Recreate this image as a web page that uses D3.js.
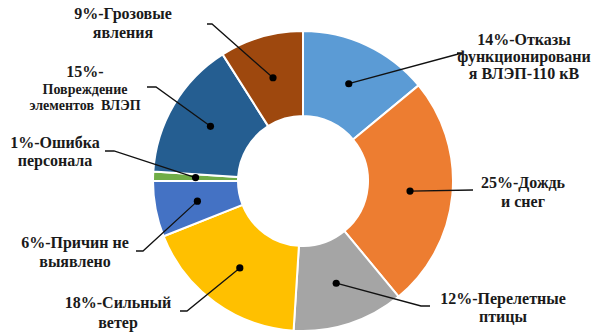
<!DOCTYPE html>
<html>
<head>
<meta charset="utf-8">
<script src="https://cdn.jsdelivr.net/npm/d3@7"></script>
<style>
  html, body { margin: 0; padding: 0; background: #fff; }
  svg { display: block; }
</style>
</head>
<body>
<svg id="chart" width="591" height="334"></svg>
<script>
// Causes of outages, share in percent (clockwise from 12 o'clock)
const categories = [
  "Отказы функционирования ВЛЭП-110 кВ",
  "Дождь и снег",
  "Перелетные птицы",
  "Сильный ветер",
  "Причин не выявлено",
  "Ошибка персонала",
  "Повреждение элементов ВЛЭП",
  "Грозовые явления"
];
const values = [14, 25, 12, 18, 6, 1, 15, 9];
const colors = ["#5B9BD5", "#ED7D31", "#A5A5A5", "#FFC000", "#4472C4", "#70AD47", "#255E91", "#9E480E"];
// Label text, line by line
const labelLines = [
  ["14%-Отказы", "функционировани", "я ВЛЭП-110 кВ"],
  ["25%-Дождь", "и снег"],
  ["12%-Перелетные", "птицы"],
  ["18%-Сильный", "ветер"],
  ["6%-Причин не", "выявлено"],
  ["1%-Ошибка", "персонала"],
  ["15%-", "Повреждение", "элементов  ВЛЭП"],
  ["9%-Грозовые", "явления"]
];

const FONT = "'Liberation Serif'";
const svg = d3.select("#chart");
const cx = 303, cy = 181;
const outerR = 150, innerR = 65;

const pie = d3.pie().sort(null).value(d => d)(values);
const arc = d3.arc().innerRadius(innerR).outerRadius(outerR);

const g = svg.append("g").attr("transform", `translate(${cx},${cy})`);

g.selectAll("path.slice")
  .data(pie)
  .join("path")
  .attr("class", "slice")
  .attr("d", arc)
  .attr("fill", (d, i) => colors[i])
  .attr("stroke", "#fff")
  .attr("stroke-width", 2)
  .attr("stroke-linejoin", "round");

// Label layout: text centre x, first baseline y, line step, font sizes,
// leader end point (ex, ey) and short horizontal tail length
const layout = [
  { x: 524, y: 45, step: 17, sizes: [16, 16, 16], ex: 457, ey: 53, tail: 5 },
  { x: 523, y: 188, step: 19, sizes: [16, 16], ex: 473, ey: 190, tail: 0 },
  { x: 503, y: 304, step: 18, sizes: [16, 16], ex: 430, ey: 306, tail: -9 },
  { x: 118, y: 308, step: 20, sizes: [16, 16], ex: 180, ey: 311, tail: 7 },
  { x: 75, y: 248, step: 19, sizes: [16, 16], ex: 136, ey: 251, tail: 7 },
  { x: 55, y: 148, step: 18, sizes: [16, 16], ex: 105, ey: 151, tail: 9 },
  { x: 85, y: 77, step: 16.5, sizes: [16, 14, 14], ex: 147, ey: 87, tail: 9 },
  { x: 123, y: 19, step: 18.5, sizes: [16, 16], ex: 207, ey: 24, tail: 5 }
];

const leaders = svg.append("g").attr("transform", `translate(${cx},${cy})`);
pie.forEach((d, i) => {
  const [px, py] = arc.centroid(d);
  const L = layout[i];
  const ex = L.ex - cx, ey = L.ey - cy;
  const pts = [[ex, ey]];
  if (L.tail) pts.push([ex + L.tail, ey]);
  pts.push([px, py]);
  leaders.append("path")
    .attr("d", d3.line()(pts))
    .attr("fill", "none")
    .attr("stroke", "#111")
    .attr("stroke-width", 1.3);
  leaders.append("circle")
    .attr("cx", px).attr("cy", py).attr("r", 3.6)
    .attr("fill", "#000");
});

// One <text> per label line
const labels = svg.append("g");
labelLines.forEach((lines, i) => {
  const L = layout[i];
  lines.forEach((s, j) => {
    labels.append("text")
      .attr("x", L.x)
      .attr("y", L.y + j * L.step)
      .attr("text-anchor", "middle")
      .attr("font-family", FONT)
      .attr("font-weight", "bold")
      .attr("font-size", L.sizes[j])
      .attr("fill", "#1a1a1a")
      .style("white-space", "pre")
      .text(s);
  });
});
</script>
</body>
</html>
